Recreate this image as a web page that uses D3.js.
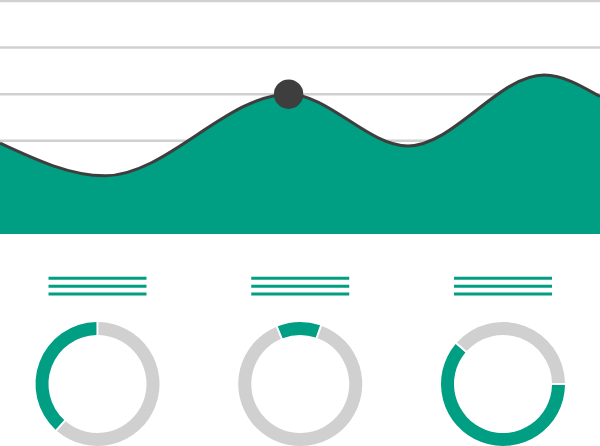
<!DOCTYPE html>
<html>
<head>
<meta charset="utf-8">
<script src="https://cdn.jsdelivr.net/npm/d3@7"></script>
<style>
  html, body { margin: 0; padding: 0; background: #fff; }
  svg { display: block; }
</style>
</head>
<body>
<div id="chart"></div>
<script>
// data
let waveX = [0, 17.5, 48.1, 68, 90.7, 100];
let waveY = [1.95, 1.25, 3.0, 1.89, 3.41, 2.95];
let gridTicks = [1, 2, 3, 4, 5];
let markerIndex = 2;

let donutNames = ['A', 'B', 'C'];
let donutShare = [38.4, 11.6, 61.4];      // green part, percent
let donutStartDeg = [221.7, -22.2, 90];   // where the green part starts, clockwise from top

let legendRows = [0, 1, 2];

let width = 600;
let height = 446;

let green = '#009e82';
let grey = '#d0d0d0';
let dark = '#3e3e3e';

let svg = d3.select('#chart')
	.append('svg')
	.attr('width', width)
	.attr('height', height);

// ---- wave area ----
let x = d3.scaleLinear()
	.domain([0, 100])
	.range([0, width]);

let y = d3.scaleLinear()
	.domain([0, 5])
	.range([234, 1]);

let points = waveX.map(function(v, i){ return [v, waveY[i]]; });

svg.append('g')
	.selectAll('line')
	.data(gridTicks)
	.enter()
	.append('line')
	.attr('x1', 0)
	.attr('x2', width)
	.attr('y1', function(d){ return y(d); })
	.attr('y2', function(d){ return y(d); })
	.attr('stroke', grey)
	.attr('stroke-width', 2.5);

let area = d3.area()
	.curve(d3.curveMonotoneX)
	.x(function(d){ return x(d[0]); })
	.y0(y(0))
	.y1(function(d){ return y(d[1]); });

let line = d3.line()
	.curve(d3.curveMonotoneX)
	.x(function(d){ return x(d[0]); })
	.y(function(d){ return y(d[1]); });

svg.append('path')
	.datum(points)
	.attr('d', area)
	.attr('fill', green);

svg.append('path')
	.datum(points)
	.attr('d', line)
	.attr('fill', 'none')
	.attr('stroke', dark)
	.attr('stroke-width', 3);

svg.append('circle')
	.attr('cx', x(points[markerIndex][0]))
	.attr('cy', y(points[markerIndex][1]))
	.attr('r', 14.7)
	.attr('fill', dark);

// ---- donuts ----
let cx = d3.scalePoint()
	.domain(donutNames)
	.range([97.5, 503]);

let legendY = d3.scalePoint()
	.domain(legendRows)
	.range([278.3, 294]);

let arc = d3.arc()
	.innerRadius(49)
	.outerRadius(62)
	.padAngle(0.025);

let groups = svg.append('g')
	.selectAll('g')
	.data(donutNames)
	.enter()
	.append('g')
	.attr('transform', function(d){ return 'translate(' + cx(d) + ',0)'; });

groups.selectAll('line')
	.data(legendRows)
	.enter()
	.append('line')
	.attr('x1', -49)
	.attr('x2', 49)
	.attr('y1', function(d){ return legendY(d); })
	.attr('y2', function(d){ return legendY(d); })
	.attr('stroke', green)
	.attr('stroke-width', 3);

groups.each(function(name, i){
	let start = donutStartDeg[i] * Math.PI / 180;
	let pie = d3.pie()
		.sort(null)
		.startAngle(start)
		.endAngle(start + 2 * Math.PI);

	d3.select(this).append('g')
		.attr('transform', 'translate(0,384)')
		.selectAll('path')
		.data(pie([donutShare[i], 100 - donutShare[i]]))
		.enter()
		.append('path')
		.attr('d', arc)
		.attr('fill', function(d, j){ return j === 0 ? green : grey; });
});
</script>
</body>
</html>
